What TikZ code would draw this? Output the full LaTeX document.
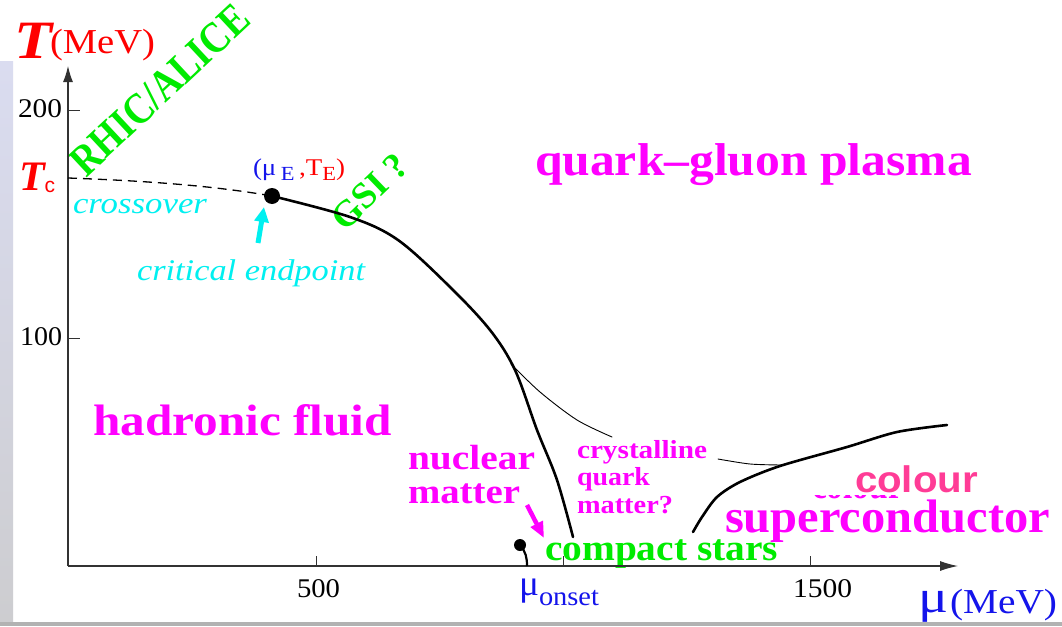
\documentclass[tikz,border=0pt]{standalone}
\usepackage{fontspec}
\setmainfont{Liberation Serif}
\newfontfamily\hsans{Liberation Sans}
\usepackage{graphicx}
\usetikzlibrary{arrows.meta}
\definecolor{tred}{RGB}{255,0,0}
\definecolor{tgreen}{RGB}{0,235,0}
\definecolor{tcyan}{RGB}{0,240,240}
\definecolor{tmag}{RGB}{255,0,255}
\definecolor{tblue}{RGB}{20,20,235}
\definecolor{tpink}{RGB}{255,60,150}
\definecolor{stripA}{RGB}{218,220,240}
\definecolor{stripB}{RGB}{205,205,208}
\definecolor{axisgray}{RGB}{50,50,50}
\newcommand{\fw}[3]{\resizebox{#1pt}{\height}{\fontsize{#2}{#2}\selectfont #3}}
\begin{document}
\begin{tikzpicture}[x=1pt,y=-1pt,
  lbl/.style={inner sep=0pt, outer sep=0pt, anchor=base west},
  axisline/.style={line width=1.1pt, draw=axisgray},
  tickline/.style={line width=1pt, draw=axisgray},
  phase/.style={line width=2.6pt, line cap=round, line join=round},
  thinphase/.style={line width=0.9pt, line cap=round},
  dotnode/.style={circle, fill=black, inner sep=0pt}
]
\useasboundingbox (0,0) rectangle (1062,626);
\fill[white] (0,0) rectangle (1062,626);
% left strip and bottom rule
\shade[top color=stripA, bottom color=stripB] (0,62) rectangle (13,622);
\fill[black!30] (0,622) rectangle (1062,626);

% ---------- texts ----------
\node[lbl, text=tred] (tT) at (14,58) {\fw{38}{54}{\bfseries\itshape T}};
\node[lbl, text=tred] (tMeV) at (50,53) {\fw{105}{35}{(MeV)}};
\node[lbl] (y200) at (18,117) {\fw{44}{27}{200}};
\node[lbl] (y100) at (20,345) {\fw{42}{27}{100}};
\node[lbl, text=tred] (tc) at (19,190) {{\fontsize{42}{42}\selectfont\bfseries\itshape T}\raisebox{-2pt}{\fontsize{21}{21}\selectfont\hsans c}};
\node[lbl] (x500) at (297,597) {\fw{43}{27}{500}};
\node[lbl] (x1500) at (793,597) {\fw{59}{27}{1500}};

\node[lbl, text=tgreen, rotate=43] (rhic) at (86,178) {\fw{228}{44}{\bfseries RHIC/ALICE}};
\node[lbl, text=tgreen, rotate=44] (gsi) at (345,232) {\fw{92}{37}{\bfseries GSI ?}};

\node[lbl] (cepl) at (253,175) {\fw{92}{24}{\color{tblue}(μ\,\raisebox{-5pt}{\fontsize{20}{20}\selectfont E}\,\color{tred},T\raisebox{-5pt}{\fontsize{20}{20}\selectfont E})}};
\node[lbl, text=tcyan] (cross) at (73,213) {\fw{134}{30}{\itshape crossover}};
\node[lbl, text=tcyan] (critl) at (137,280) {\fw{228}{30}{\itshape critical endpoint}};

\node[lbl, text=tmag] (qgp) at (535,175) {\fw{437}{46}{\bfseries quark–gluon plasma}};
\node[lbl, text=tmag] (had) at (93,435) {\fw{299}{44}{\bfseries hadronic fluid}};
\node[lbl, text=tmag] (nuc1) at (408,469) {\fw{127}{35}{\bfseries nuclear}};
\node[lbl, text=tmag] (nuc2) at (408,503) {\fw{112}{35}{\bfseries matter}};
\node[lbl, text=tgreen] (cstars) at (545,560) {\fw{233}{37}{\bfseries compact stars}};
\node[lbl, text=tmag] (cry1) at (577,458) {\fw{130}{26}{\bfseries crystalline}};
\node[lbl, text=tmag] (cry2) at (577,485) {\fw{73}{26}{\bfseries quark}};
\node[lbl, text=tmag] (cry3) at (577,513) {\fw{96}{26}{\bfseries matter?}};
\begin{scope}
  \clip (805,495.5) rectangle (910,499);
  \node[lbl, text=tmag] (colrem) at (812,498.5) {\fw{91}{40}{\bfseries colour}};
\end{scope}
\node[lbl, text=tpink] (colour) at (855,492) {\fw{123}{37}{\hsans\bfseries colour}};
\node[lbl, text=tmag] (supc) at (725,532) {\fw{325}{47}{\bfseries superconductor}};
\node[lbl, text=tblue] (monset) at (519,595) {\fw{20}{36}{μ}\raisebox{-10pt}{\fw{60}{27}{onset}}};
\node[lbl, text=tblue] (mulab) at (918,612) {\fw{30}{46}{μ}};
\node[lbl, text=tblue] (mev2) at (950,613) {\fw{107}{35}{(MeV)}};

% ---------- axes ----------
\coordinate (O) at (68,566);
\coordinate (ytip) at (68,66);
\coordinate (xtip) at (958,566);
\draw[axisline, -{Latex[length=16pt,width=10pt]}] (O) -- (ytip);
\draw[axisline, -{Latex[length=18pt,width=10pt]}] (O) -- (xtip);
\draw[tickline] (68,110) -- (80,110);
\draw[tickline] (68,338) -- (80,338);
\draw[tickline] (316,566) -- (316,556);
\draw[tickline] (563,566) -- (563,556);
\draw[tickline] (810,566) -- (810,556);

% ---------- phase lines ----------
\coordinate (tcpt) at (68,178);
\node[dotnode, minimum size=16pt] (cep) at (272,196) {};
\draw[line width=1.3pt, dash pattern=on 9pt off 6pt] (tcpt) .. controls (150,181) and (215,186) .. (cep.center);
\draw[phase] plot[smooth, tension=0.55] coordinates {(cep.center) (350,217) (398,240) (450,287) (490,330) (515,370) (537,430) (557,480) (573,537)};
\draw[thinphase] plot[smooth] coordinates {(511,364) (540,392) (577,420) (612,437)};
\draw[thinphase] plot[smooth] coordinates {(718,459) (750,464) (782,465)};
\draw[phase] plot[smooth, tension=0.5] coordinates {(693,532) (702,517) (717,497) (740,482) (780,466) (847,447) (897,432) (947,425)};
\node[dotnode, minimum size=12pt] (ons) at (520,545) {};
\coordinate (onsbase) at (527,566);
\draw[line width=2.2pt] (ons.center) .. controls (526,552) and (527,558) .. (onsbase);

% ---------- arrows ----------
\coordinate (cyt) at (258,243);
\coordinate (cyh) at (264,207);
\draw[tcyan, line width=5pt, -{Triangle[length=15pt,width=14pt]}] (cyt) -- (cyh);
\coordinate (mgs) at (527,505);
\coordinate (mge) at (544,538);
\draw[tmag, line width=4.5pt, -{Triangle[length=16pt,width=13pt]}] (mgs) -- (mge);
\end{tikzpicture}
\end{document}
